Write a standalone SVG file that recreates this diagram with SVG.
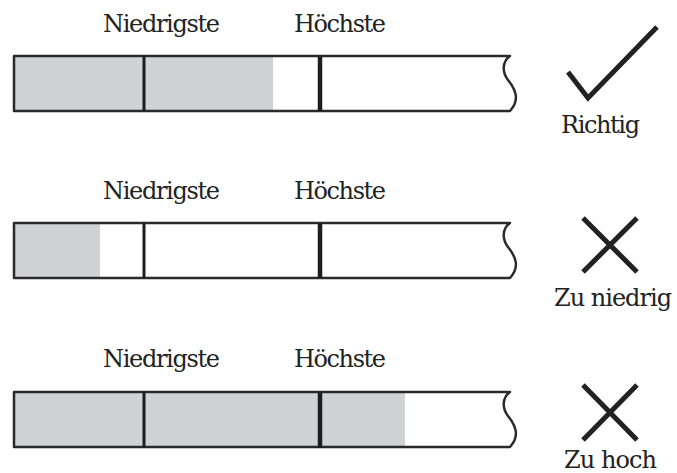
<svg xmlns="http://www.w3.org/2000/svg" width="677" height="473" viewBox="0 0 677 473">
<style>
text{font-family:'DejaVu Serif',serif;font-size:24px;fill:#222}
.fill{fill:#d1d2d4}
.outline{fill:none;stroke:#2a2a2a;stroke-width:2.5;stroke-linejoin:round}
.low{stroke:#1e1e1e;stroke-width:3}
.high{stroke:#1e1e1e;stroke-width:4.5}
.mark{fill:none;stroke:#222;stroke-width:5;stroke-linecap:butt;stroke-linejoin:miter}
</style>
<defs>
<path id="bar" d="M14,0 H510 C502,6 502,16 508,24 C516,34 520,44 510,55 H14 Z"/>
</defs>
<g id="row1">
<text x="103" y="32" textLength="117">Niedrigste</text>
<text x="294" y="32" textLength="92">Höchste</text>
<rect class="fill" x="14" y="56" width="259" height="55"/>
<use href="#bar" class="outline" y="56"/>
<line class="low" x1="144" y1="56" x2="144" y2="111"/>
<line class="high" x1="320" y1="56" x2="320" y2="111"/>
<polyline class="mark" points="568,72 588,98 657,27"/>
<text x="561" y="133" textLength="79">Richtig</text>
</g>
<g id="row2">
<text x="103" y="199" textLength="117">Niedrigste</text>
<text x="294" y="199" textLength="92">Höchste</text>
<rect class="fill" x="14" y="223" width="86" height="55"/>
<use href="#bar" class="outline" y="223"/>
<line class="low" x1="144" y1="223" x2="144" y2="278"/>
<line class="high" x1="320" y1="223" x2="320" y2="278"/>
<path class="mark" d="M583,218 L637,272 M637,218 L583,272"/>
<text x="554" y="306" textLength="118">Zu niedrig</text>
</g>
<g id="row3">
<text x="103" y="367" textLength="117">Niedrigste</text>
<text x="294" y="367" textLength="92">Höchste</text>
<rect class="fill" x="14" y="392" width="391" height="56"/>
<use href="#bar" class="outline" y="392"/>
<line class="low" x1="144" y1="392" x2="144" y2="448"/>
<line class="high" x1="320" y1="392" x2="320" y2="448"/>
<path class="mark" d="M583,385 L637,440 M637,385 L583,440"/>
<text x="564" y="468" textLength="93">Zu hoch</text>
</g>
</svg>
